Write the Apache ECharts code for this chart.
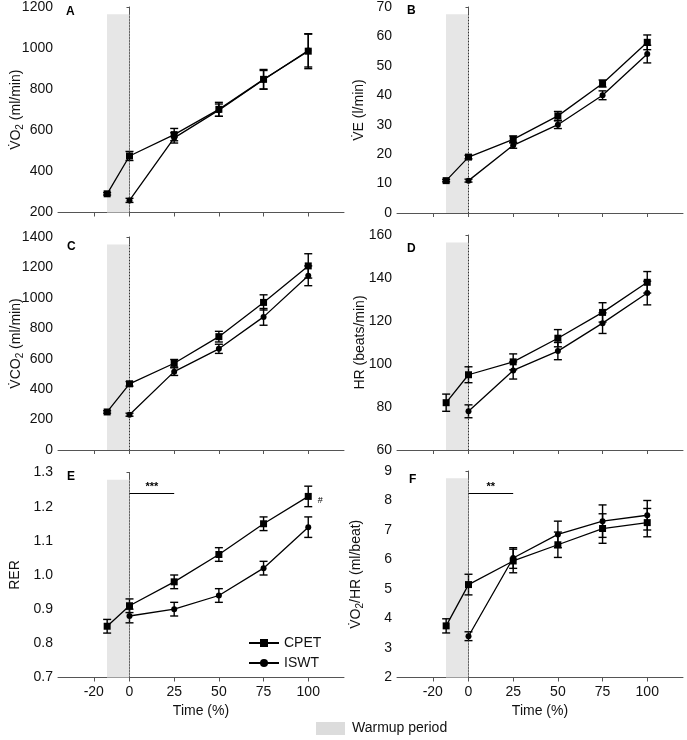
<!DOCTYPE html>
<html>
<head>
<meta charset="utf-8">
<script src="https://cdn.jsdelivr.net/npm/echarts@6/dist/echarts.min.js"></script>
<style>html,body{margin:0;padding:0;background:#fff}#c{width:687px;height:740px}</style>
</head>
<body>
<div id="c"></div>
<script>
// ---- data ----
const timeCpet = [-12.5, 0, 25, 50, 75, 100];
const timeIswt = [0, 25, 50, 75, 100];
const xTickValues = [-20, 0, 25, 50, 75, 100];
const warmupStart = -12.6;
const warmupEnd = 0;

// A: VO2 (ml/min)
const vo2Cpet = [291, 475, 579, 702, 848, 985];
const vo2CpetSem = [6, 22, 30, 34, 48, 85];
const vo2Iswt = [259, 563, 698, 846, 988];
const vo2IswtSem = [10, 25, 30, 45, 80];

// B: VE (l/min)
const veCpet = [11, 19, 25, 33, 44, 58];
const veCpetSem = [0.4, 0.6, 1.2, 1.5, 1.2, 2.5];
const veIswt = [11, 23, 30, 40, 54];
const veIswtSem = [0.5, 1.0, 1.3, 1.5, 3];

// C: VCO2 (ml/min)
const vco2Cpet = [250, 435, 570, 745, 970, 1210];
const vco2CpetSem = [8, 15, 25, 35, 50, 80];
const vco2Iswt = [232, 515, 665, 875, 1145];
const vco2IswtSem = [10, 25, 30, 55, 65];

// D: HR (beats/min)
const hrCpet = [82, 95, 101, 112, 124, 138];
const hrCpetSem = [4, 3.7, 3.7, 4, 4.5, 5];
const hrIswt = [78, 97, 106, 119, 133];
const hrIswtSem = [3, 4, 4, 4.8, 5.5];

// E: RER
const rerCpet = [0.85, 0.91, 0.98, 1.06, 1.15, 1.23];
const rerCpetSem = [0.02, 0.02, 0.02, 0.02, 0.02, 0.03];
const rerIswt = [0.88, 0.90, 0.94, 1.02, 1.14];
const rerIswtSem = [0.02, 0.02, 0.02, 0.02, 0.03];

// F: VO2/HR (ml/beat)
const pulseCpet = [3.75, 5.15, 5.95, 6.5, 7.05, 7.25];
const pulseCpetSem = [0.24, 0.35, 0.4, 0.43, 0.5, 0.48];
const pulseIswt = [3.4, 6.05, 6.85, 7.3, 7.5];
const pulseIswtSem = [0.15, 0.35, 0.45, 0.55, 0.5];

// ---- panel layout/config ----
const FONT = '"Liberation Sans", Arial, Helvetica, sans-serif';
const panels = [
  {letter:'A', name:'{a|V\u0307O}{s|2}{a| (ml/min)}', min:200, max:1200, interval:200,
   cpet:vo2Cpet, cpetSem:vo2CpetSem, iswt:vo2Iswt, iswtSem:vo2IswtSem,
   grid:{left:58, top:5, width:286, height:207.5}, nameGap:33, title:{left:66, top:6}},
  {letter:'B', name:'{a|V\u0307E (l/min)}', min:0, max:70, interval:10,
   cpet:veCpet, cpetSem:veCpetSem, iswt:veIswt, iswtSem:veIswtSem,
   grid:{left:397, top:5, width:286, height:208}, nameGap:28.5, title:{left:407, top:5}},
  {letter:'C', name:'{a|V\u0307CO}{s|2}{a| (ml/min)}', min:0, max:1400, interval:200,
   cpet:vco2Cpet, cpetSem:vco2CpetSem, iswt:vco2Iswt, iswtSem:vco2IswtSem,
   grid:{left:58, top:237, width:286, height:213}, nameGap:33, title:{left:67, top:241}},
  {letter:'D', name:'{a|HR (beats/min)}', min:60, max:160, interval:20,
   cpet:hrCpet, cpetSem:hrCpetSem, iswt:hrIswt, iswtSem:hrIswtSem,
   grid:{left:397, top:235, width:286, height:215}, nameGap:28, title:{left:407, top:243}},
  {letter:'E', name:'{a|RER}', min:0.7, max:1.3, interval:0.1, dec:1,
   cpet:rerCpet, cpetSem:rerCpetSem, iswt:rerIswt, iswtSem:rerIswtSem,
   grid:{left:58, top:472.5, width:286, height:205}, nameGap:34, title:{left:67, top:471},
   sig:{text:'***', value:1.239}, hash:true, bottom:true},
  {letter:'F', name:'{a|V\u0307O}{s|2}{a|/HR (ml/beat)}', min:2, max:9, interval:1,
   cpet:pulseCpet, cpetSem:pulseCpetSem, iswt:pulseIswt, iswtSem:pulseIswtSem,
   grid:{left:397, top:471, width:286, height:206.5}, nameGap:32, title:{left:409, top:474},
   sig:{text:'**', value:8.24}, bottom:true}
];

const AXIS_COLOR = '#555';
const grids = [], xAxes = [], yAxes = [], series = [], titles = [];

function errData(t, v, e) { return t.map((x, i) => [x, v[i] - e[i], v[i] + e[i]]); }
function pairs(t, v) { return t.map((x, i) => [x, v[i]]); }

function errorRender(params, api) {
  const x = api.value(0);
  const lo = api.coord([x, api.value(1)]);
  const hi = api.coord([x, api.value(2)]);
  const w = 4;
  const st = {stroke:'#000', lineWidth:1.4};
  return {type:'group', children:[
    {type:'line', shape:{x1:lo[0], y1:lo[1], x2:hi[0], y2:hi[1]}, style:st},
    {type:'line', shape:{x1:lo[0]-w, y1:lo[1], x2:lo[0]+w, y2:lo[1]}, style:st},
    {type:'line', shape:{x1:hi[0]-w, y1:hi[1], x2:hi[0]+w, y2:hi[1]}, style:st}
  ]};
}

panels.forEach((p, i) => {
  grids.push(p.grid);
  xAxes.push({
    type:'value', gridIndex:i, min:-40, max:120,
    splitLine:{show:false},
    axisLine:{lineStyle:{color:AXIS_COLOR, width:1}},
    axisTick:{show:true, customValues:xTickValues, length:4, lineStyle:{color:AXIS_COLOR}},
    axisLabel:{show:!!p.bottom, customValues:xTickValues, fontSize:14, color:'#111', fontFamily:FONT, margin:8},
    name: p.bottom ? 'Time (%)' : '', nameLocation:'middle', nameGap:27, nameMoveOverlap:false,
    nameTextStyle:{fontSize:14, color:'#111', fontFamily:FONT}
  });
  yAxes.push({
    type:'value', gridIndex:i, min:p.min, max:p.max, interval:p.interval,
    splitLine:{show:false},
    axisLine:{show:true, lineStyle:{color:AXIS_COLOR, width:1}},
    axisTick:{show:true, length:3, lineStyle:{color:AXIS_COLOR}},
    axisLabel:{fontSize:14, color:'#111', fontFamily:FONT, margin:5,
      formatter: v => p.dec ? v.toFixed(p.dec) : String(Math.round(v))},
    name:p.name, nameLocation:'middle', nameGap:p.nameGap, nameRotate:90, nameMoveOverlap:false,
    nameTextStyle:{fontFamily:FONT, color:'#111',
      rich:{a:{fontSize:14, fontFamily:FONT, color:'#111', lineHeight:18},
            s:{fontSize:10, fontFamily:FONT, color:'#111', lineHeight:18, verticalAlign:'bottom', padding:[6,0,0,0]}}}
  });
  titles.push({text:p.letter, left:p.title.left, top:p.title.top, padding:0,
    textStyle:{fontSize:12, fontWeight:'bold', color:'#000', fontFamily:FONT}});

  const bandTop = p.max - (p.max - p.min) * 0.035;
  // warmup band + dotted line at 0
  series.push({
    type:'line', xAxisIndex:i, yAxisIndex:i, data:[], silent:true, z:1,
    markArea:{silent:true, itemStyle:{color:'#e6e6e6'},
      data:[[{xAxis:warmupStart, yAxis:p.min}, {xAxis:warmupEnd, yAxis:bandTop}]]},
    markLine:{silent:true, symbol:'none', animation:false,
      lineStyle:{type:[1, 2], color:'#333', width:1},
      label:{show:false},
      data:[[{coord:[warmupEnd, p.min]}, {coord:[warmupEnd, bandTop]}]]}
  });
  // error bars
  series.push({type:'custom', xAxisIndex:i, yAxisIndex:i, z:3, silent:true,
    renderItem:errorRender, data:errData(timeCpet, p.cpet, p.cpetSem)});
  series.push({type:'custom', xAxisIndex:i, yAxisIndex:i, z:3, silent:true,
    renderItem:errorRender, data:errData(timeIswt, p.iswt, p.iswtSem)});
  // lines
  const cpetSeries = {
    name:'CPET', type:'line', xAxisIndex:i, yAxisIndex:i, z:5,
    data:pairs(timeCpet, p.cpet), symbol:'rect', symbolSize:7,
    itemStyle:{color:'#000'}, lineStyle:{color:'#000', width:1.3}, animation:false
  };
  if (p.hash) {
    cpetSeries.markPoint = {symbol:'circle', symbolSize:0, silent:true,
      label:{show:true, formatter:'#', fontSize:9, color:'#000', fontFamily:FONT, offset:[12, 4]},
      data:[{coord:[timeCpet[timeCpet.length-1], p.cpet[p.cpet.length-1]]}]};
  }
  if (p.sig) {
    cpetSeries.markLine = {silent:true, symbol:'none', animation:false,
      lineStyle:{type:'solid', color:'#000', width:1},
      label:{show:true, position:'middle', formatter:p.sig.text, fontSize:11, fontWeight:'bold', color:'#000', distance:1},
      data:[[{coord:[0, p.sig.value]}, {coord:[25, p.sig.value]}]]};
  }
  series.push(cpetSeries);
  series.push({
    name:'ISWT', type:'line', xAxisIndex:i, yAxisIndex:i, z:5,
    data:pairs(timeIswt, p.iswt), symbol:'circle', symbolSize:6,
    itemStyle:{color:'#000'}, lineStyle:{color:'#000', width:1.3}, animation:false
  });
});

const chart = echarts.init(document.getElementById('c'), null, {renderer:'canvas'});
chart.setOption({
  animation:false,
  backgroundColor:'#fff',
  title:titles,
  grid:grids, xAxis:xAxes, yAxis:yAxes, series:series,
  legend:{data:['CPET','ISWT'], orient:'vertical', left:243, top:631,
    itemWidth:30, itemHeight:10, itemGap:6, selectedMode:false,
    textStyle:{fontSize:14, color:'#111', fontFamily:FONT}},
  graphic:[
    {type:'rect', left:316, top:722, shape:{width:29, height:13}, style:{fill:'#dcdcdc'}, silent:true},
    {type:'text', left:352, top:721, style:{text:'Warmup period', fontSize:14, fill:'#111', font:'14px ' + FONT}, silent:true}
  ]
});
</script>
</body>
</html>
